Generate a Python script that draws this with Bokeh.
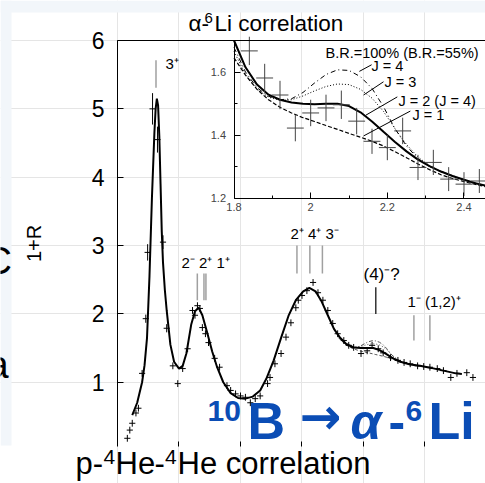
import math
from bokeh.plotting import figure
from bokeh.models import Range1d, LinearAxis, FixedTicker, Label, BoxAnnotation
from bokeh.embed import file_html
from bokeh.resources import INLINE

# ---------------- data ----------------
# main panel: 10B excitation above alpha-6Li threshold (MeV)
main_x = [0.08, 0.10, 0.12, 0.15, 0.17, 0.20, 0.23, 0.245, 0.285, 0.325,
          0.37, 0.40, 0.45, 0.49, 0.53, 0.57, 0.61, 0.63, 0.65, 0.67,
          0.69, 0.715, 0.74, 0.79, 0.83, 0.89, 0.92, 0.96, 1.00, 1.04,
          1.08, 1.12, 1.16, 1.22, 1.24, 1.28, 1.33, 1.37, 1.41, 1.45,
          1.47, 1.50, 1.54, 1.59, 1.63, 1.67, 1.71, 1.75, 1.79, 1.84,
          1.88, 1.92, 1.98, 2.03, 2.07, 2.12, 2.16, 2.22, 2.28, 2.33,
          2.38, 2.44, 2.49, 2.54, 2.60, 2.65, 2.71, 2.76, 2.84, 2.89]
main_y = [0.18, 0.30, 0.40, 0.55, 0.62, 1.13, 1.93, 2.90, 5.00, 4.55,
          3.05, 1.79, 1.24, 0.98, 1.20, 1.49, 2.05, 1.98, 2.12, 2.08,
          1.80, 1.71, 1.58, 1.35, 1.22, 0.95, 0.88, 0.83, 0.80, 0.78,
          0.70, 0.76, 0.80, 0.98, 1.07, 1.27, 1.42, 1.66, 1.87, 2.09,
          2.20, 2.27, 2.34, 2.46, 2.31, 2.20, 2.05, 1.86, 1.71, 1.61,
          1.54, 1.51, 1.42, 1.46, 1.54, 1.49, 1.43, 1.36, 1.32, 1.29,
          1.27, 1.24, 1.23, 1.22, 1.20, 1.17, 1.07, 1.13, 1.14, 1.07]
main_err = [0.05, 0.05, 0.05, 0.05, 0.05, 0.05, 0.06, 0.12, 0.23, 0.19,
            0.10, 0.06, 0.05, 0.05, 0.05, 0.05, 0.05, 0.05, 0.05, 0.05,
            0.05, 0.05, 0.05, 0.05, 0.05, 0.05, 0.05, 0.05, 0.05, 0.05,
            0.05, 0.05, 0.05, 0.05, 0.05, 0.05, 0.05, 0.05, 0.05, 0.05,
            0.05, 0.05, 0.05, 0.05, 0.05, 0.05, 0.05, 0.05, 0.05, 0.05,
            0.05, 0.05, 0.05, 0.05, 0.05, 0.05, 0.05, 0.05, 0.05, 0.05,
            0.05, 0.05, 0.05, 0.05, 0.05, 0.05, 0.05, 0.05, 0.05, 0.05]

fit_x = [0.12, 0.16, 0.20, 0.22, 0.24, 0.26, 0.28, 0.30, 0.31, 0.32,
         0.33, 0.34, 0.35, 0.36, 0.37, 0.385, 0.40, 0.43, 0.46, 0.50,
         0.53, 0.56, 0.60, 0.63, 0.66, 0.69, 0.73, 0.77, 0.81, 0.86,
         0.92, 0.98, 1.04, 1.10, 1.16, 1.21, 1.27, 1.33, 1.39, 1.45,
         1.51, 1.56, 1.61, 1.66, 1.71, 1.76, 1.81, 1.86, 1.92, 1.98,
         2.04, 2.08, 2.13, 2.18, 2.24, 2.30, 2.38, 2.46, 2.55, 2.65,
         2.75, 2.80]
fit_y = [0.52, 0.70, 1.00, 1.25, 1.65, 2.55, 3.70, 4.65, 5.00, 5.15,
         5.05, 4.60, 3.90, 3.20, 2.75, 2.35, 2.05, 1.55, 1.30, 1.20,
         1.24, 1.42, 1.85, 2.04, 2.09, 1.98, 1.72, 1.45, 1.22, 1.00,
         0.84, 0.77, 0.76, 0.79, 0.88, 1.05, 1.32, 1.65, 1.97, 2.20,
         2.33, 2.38, 2.33, 2.18, 1.98, 1.78, 1.65, 1.56, 1.51, 1.50,
         1.50, 1.50, 1.47, 1.42, 1.35, 1.30, 1.26, 1.24, 1.21, 1.17,
         1.13, 1.12]

# known levels (E_rel, MeV) with their labels
state_groups = ["3\u207a", "2\u207b 2\u207a 1\u207a", "2\u207a 4\u207a 3\u207b", "(4)\u207b?", "1\u207b (1,2)\u207a"]
state_E = [[0.313], [0.649, 0.703, 0.719], [1.459, 1.564, 1.666], [2.10], [2.41, 2.54]]

# inset: alpha-6Li correlation
in_x = [1.84, 1.88, 1.92, 1.96, 2.00, 2.04, 2.08, 2.12,
        2.16, 2.20, 2.24, 2.28, 2.32, 2.36, 2.40, 2.44]
in_y = [1.667, 1.581, 1.527, 1.422, 1.470, 1.486, 1.496, 1.444,
        1.380, 1.360, 1.413, 1.297, 1.313, 1.260, 1.244, 1.254]
in_err = [0.045, 0.045, 0.045, 0.042, 0.042, 0.042, 0.045, 0.042,
          0.040, 0.040, 0.042, 0.040, 0.040, 0.038, 0.038, 0.038]

curve_x = [1.80, 1.83, 1.86, 1.89, 1.92, 1.95, 1.98, 2.01, 2.04, 2.07, 2.10, 2.13,
           2.16, 2.19, 2.22, 2.25, 2.28, 2.31, 2.34, 2.37, 2.40, 2.43, 2.46]
j2_y = [1.700, 1.615, 1.560, 1.528, 1.512, 1.503, 1.499, 1.498, 1.499, 1.499, 1.492, 1.472,
        1.443, 1.410, 1.378, 1.348, 1.322, 1.301, 1.284, 1.270, 1.258, 1.247, 1.238]
j4_y = [1.678, 1.600, 1.550, 1.523, 1.512, 1.515, 1.535, 1.565, 1.592, 1.607, 1.605, 1.585,
        1.548, 1.490, 1.420, 1.365, 1.325, 1.300, 1.283, 1.270, 1.258, 1.247, 1.238]
j3_y = [1.665, 1.592, 1.545, 1.520, 1.510, 1.512, 1.524, 1.540, 1.554, 1.562, 1.560, 1.545,
        1.517, 1.475, 1.420, 1.370, 1.330, 1.303, 1.285, 1.271, 1.258, 1.247, 1.238]
j1_y = [1.645, 1.590, 1.545, 1.512, 1.488, 1.470, 1.455, 1.443, 1.430, 1.418, 1.405, 1.393,
        1.380, 1.365, 1.347, 1.328, 1.308, 1.290, 1.274, 1.262, 1.252, 1.243, 1.235]

main_yticks = [1, 2, 3, 4, 5, 6]
main_xticks = [0.5, 1.0, 1.5, 2.0, 2.5]
inset_xticks = [1.8, 2.0, 2.2, 2.4]
inset_xminor = [1.9, 2.1, 2.3]
inset_yticks = [1.2, 1.4, 1.6]
inset_yminor = [1.3, 1.5]

# ---------------- figure ----------------
FONT = "Liberation Sans"
W, H = 485, 483

# the frame fills the whole canvas; all axes are drawn at fixed locations
p = figure(width=W, height=H, x_range=Range1d(-0.9513, 2.9921), y_range=Range1d(-0.4814, 6.5852),
           output_backend="svg", toolbar_location=None,
           x_axis_location=None, y_axis_location=None,
           min_border_left=0, min_border_right=0, min_border_top=0, min_border_bottom=0)
p.outline_line_color = None
p.background_fill_color = "white"
p.border_fill_color = "white"
p.extra_x_ranges = {"inset": Range1d(1.1908, 2.4561)}
p.extra_y_ranges = {"inset": Range1d(0.2937, 1.8270)}


def px(X):  # reference pixel -> main data x
    return (X - 117) / 122.99


def py(Y):  # reference pixel -> main data y
    return 6.0 - (Y - 40) / 68.35


def label(text, X, Y, size, color="black", style="normal", font=FONT):
    # X: left edge, Y: text baseline, both in picture pixels
    return Label(x=px(X), y=py(Y - 0.33 * size), text=text, text_font=font,
                 text_font_size=f"{size}px", text_font_style=style, text_color=color,
                 text_baseline="alphabetic")


# slide background strips
p.add_layout(BoxAnnotation(left=px(0), right=px(11), top=py(0), bottom=py(445),
                           fill_color="#f2f6fa", fill_alpha=1, line_color=None, level="underlay"))
p.add_layout(BoxAnnotation(left=px(0), right=px(485), top=py(0), bottom=py(12),
                           fill_color="#f2f6fa", fill_alpha=1, line_color=None, level="underlay"))

# main axes
yax = LinearAxis(fixed_location=0.0, bounds=(0.06, 6.0),
                 ticker=FixedTicker(ticks=main_yticks, minor_ticks=[]),
                 major_tick_in=6, major_tick_out=0, minor_tick_in=0, minor_tick_out=0,
                 major_label_standoff=13, major_label_text_font=FONT,
                 major_label_text_font_size="23px", major_label_text_color="black",
                 axis_line_width=1)
p.add_layout(yax, "left")

xax = LinearAxis(fixed_location=0.06, bounds=(0.0, 3.0),
                 ticker=FixedTicker(ticks=main_xticks, minor_ticks=[]),
                 axis_line_color=None, major_tick_in=5, major_tick_out=0,
                 minor_tick_in=0, minor_tick_out=0,
                 major_label_overrides={t: "" for t in main_xticks})
p.add_layout(xax, "below")

top = LinearAxis(fixed_location=6.0, bounds=(0.0, 3.0),
                 ticker=FixedTicker(ticks=[], minor_ticks=[]), major_tick_in=0, major_tick_out=0,
                 minor_tick_in=0, minor_tick_out=0)
p.add_layout(top, "above")

# inset axes, drawn at the inset's own corner
ax_ix = LinearAxis(x_range_name="inset", y_range_name="inset", fixed_location=1.2, bounds=(1.8, 2.6),
                   ticker=FixedTicker(ticks=inset_xticks, minor_ticks=inset_xminor),
                   major_label_overrides={2.0: "2"},
                   major_tick_in=6, major_tick_out=0, minor_tick_in=3, minor_tick_out=0,
                   major_label_text_font=FONT, major_label_text_font_size="11px",
                   major_label_standoff=5)
p.add_layout(ax_ix, "below")
ax_iy = LinearAxis(x_range_name="inset", y_range_name="inset", fixed_location=1.8, bounds=(1.2, 1.7),
                   ticker=FixedTicker(ticks=inset_yticks, minor_ticks=inset_yminor),
                   major_tick_in=6, major_tick_out=0, minor_tick_in=3, minor_tick_out=0,
                   major_label_text_font=FONT, major_label_text_font_size="11px",
                   major_label_standoff=8)
p.add_layout(ax_iy, "left")

p.add_layout(Label(x=px(33), y=py(243), text="1+R", text_font=FONT, text_font_size="20px",
                   text_color="black", angle=math.pi / 2, text_align="center", text_baseline="middle"))

# ---------------- main panel ----------------
lvl_y0 = [5.31, 2.20, 2.59, 2.00, 1.61]
lvl_y1 = [5.71, 2.59, 3.00, 2.39, 1.98]
lvl_col = ["#a0a0a0", "#a0a0a0", "#a0a0a0", "#333333", "#a0a0a0"]
for E, y0, y1, c in zip(state_E, lvl_y0, lvl_y1, lvl_col):
    p.segment(x0=E, x1=E, y0=[y0] * len(E), y1=[y1] * len(E), line_color=c, line_width=1.5)

lab_pos = [(165, 68, 15), (181, 267, 15), (290, 238, 15), (363, 280, 17), (407, 306, 15)]
for t, (X, Y, s) in zip(state_groups, lab_pos):
    p.add_layout(label(t, X, Y, s))

# alternative spin curves around the (4)- bump
p.line(curve_x, j4_y, line_color="#555555", line_width=1, line_dash="4 2 1 2")
p.line(curve_x, j3_y, line_color="#555555", line_width=1, line_dash="1 2")
p.line(curve_x, j1_y, line_color="#555555", line_width=1, line_dash="3 2")
p.line(fit_x, fit_y, line_color="black", line_width=2)

hx = 0.025
p.segment(x0=[x - hx for x in main_x], x1=[x + hx for x in main_x], y0=main_y, y1=main_y,
          line_color="black", line_width=1)
p.segment(x0=main_x, x1=main_x, y0=[y - e for y, e in zip(main_y, main_err)],
          y1=[y + e for y, e in zip(main_y, main_err)], line_color="black", line_width=1)

# ---------------- inset ----------------
kw = dict(x_range_name="inset", y_range_name="inset")
p.line(curve_x, j4_y, line_color="black", line_width=1, line_dash="5 3 1 3", **kw)
p.line(curve_x, j3_y, line_color="black", line_width=1, line_dash="1 2", **kw)
p.line(curve_x, j1_y, line_color="black", line_width=1.2, line_dash="4 2", **kw)
p.line(curve_x, j2_y, line_color="black", line_width=2, **kw)
hxi = 0.022
p.segment(x0=[x - hxi for x in in_x], x1=[x + hxi for x in in_x], y0=in_y, y1=in_y,
          line_color="#444444", line_width=1, **kw)
p.segment(x0=in_x, x1=in_x, y0=[y - e for y, e in zip(in_y, in_err)],
          y1=[y + e for y, e in zip(in_y, in_err)], line_color="#444444", line_width=1, **kw)

# leader lines for the J labels
p.segment(x0=[2.127, 2.138, 2.144, 2.138], y0=[1.602, 1.527, 1.463, 1.397],
          x1=[2.159, 2.190, 2.226, 2.260], y1=[1.623, 1.569, 1.521, 1.476],
          line_color="black", line_width=1, **kw)
legend_txt = ["B.R.=100% (B.R.=55%)", "J = 4", "J = 3", "J = 2 (J = 4)", "J = 1"]
legend_pos = [(325, 57), (371, 70), (384, 86), (398, 105), (412, 119)]
for t, (X, Y) in zip(legend_txt, legend_pos):
    p.add_layout(label(t, X, Y, 14.5))

# inset title with a real superscript
for t, X, Y, s in [("\u03b1-", 188, 30, 22.5), ("6", 204, 22, 15), ("Li correlation", 214, 30, 22.5)]:
    p.add_layout(label(t, X, Y, s))

# ---------------- slide texts ----------------
for t, X, Y, s in [("p-", 75, 473, 31), ("4", 103, 463, 21), ("He", 115, 473, 31), ("-", 154, 473, 31),
                   ("4", 164.5, 463, 21), ("He correlation", 177, 473, 31)]:
    p.add_layout(label(t, X, Y, s))
p.add_layout(label("C", -16, 273, 38))
p.add_layout(label("a", -13, 377, 38))

BLUE = "#0b4db5"
blue_parts = [("10", 207, 420, 30, "bold", FONT), ("B", 247, 438, 52, "bold", FONT),
              ("\u2192", 299, 433, 50, "bold", "DejaVu Sans"),
              ("\u03b1", 350, 438, 50, "bold italic", FONT), ("-", 388, 438, 50, "bold", FONT),
              ("6", 405, 420, 30, "bold", FONT), ("Li", 428, 438, 52, "bold", FONT)]
for t, X, Y, s, st, f in blue_parts:
    p.add_layout(label(t, X, Y, s, color=BLUE, style=st, font=f))

open("out.html", "w").write(file_html(p, INLINE))
